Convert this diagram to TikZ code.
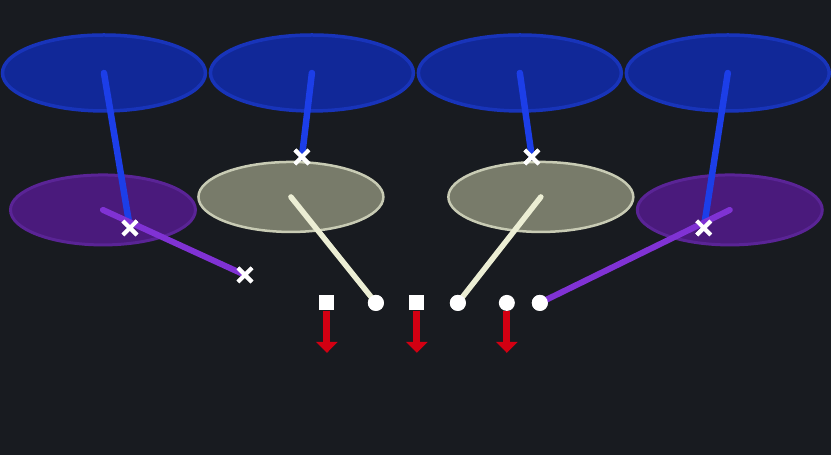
\documentclass[tikz,border=0pt]{standalone}
\usetikzlibrary{shapes.geometric,shapes.misc,arrows.meta}
\definecolor{FieldDark}{RGB}{24,27,32}
\definecolor{ZoneBlau}{RGB}{17,40,152}
\definecolor{ZoneBlauRand}{RGB}{24,52,186}
\definecolor{LinieBlau}{RGB}{28,62,232}
\definecolor{ZoneLila}{RGB}{74,26,124}
\definecolor{ZoneLilaRand}{RGB}{90,36,150}
\definecolor{LinieLila}{RGB}{128,50,212}
\definecolor{ZoneGrau}{RGB}{120,123,106}
\definecolor{ZoneGrauRand}{RGB}{200,203,180}
\definecolor{LinieGrau}{RGB}{236,238,212}
\definecolor{PfeilRot}{RGB}{210,0,18}

\begin{document}
\begin{tikzpicture}[x=1pt, y=-1pt,
  bluezone/.style={ellipse, fill=ZoneBlau, draw=ZoneBlauRand, line width=3.5pt, minimum width=203pt, minimum height=76pt, inner sep=0},
  purplezone/.style={ellipse, fill=ZoneLila, draw=ZoneLilaRand, line width=3pt, minimum width=185pt, minimum height=70pt, inner sep=0},
  greyzone/.style={ellipse, fill=ZoneGrau, draw=ZoneGrauRand, line width=2.5pt, minimum width=185pt, minimum height=70pt, inner sep=0},
  bluelink/.style={draw=LinieBlau, line width=6.5pt, line cap=round},
  purplelink/.style={draw=LinieLila, line width=6pt, line cap=round},
  greylink/.style={draw=LinieGrau, line width=5.5pt, line cap=round},
  xmark/.style={cross out, draw=white, line width=4pt, minimum size=10pt, inner sep=0},
  sqmark/.style={rectangle, fill=white, minimum size=15pt, inner sep=0},
  cmark/.style={circle, fill=white, minimum size=16pt, inner sep=0},
  redarrow/.style={draw=PfeilRot, line width=7pt, -{Triangle[width=21pt,length=11pt]}}]
\fill[FieldDark] (0,0) rectangle (831,455);

% zones
\node[bluezone] (deep1) at (104,73) {};
\node[bluezone] (deep2) at (312,73) {};
\node[bluezone] (deep3) at (520,73) {};
\node[bluezone] (deep4) at (728,73) {};
\node[purplezone] (flatL) at (103,210) {};
\node[purplezone] (flatR) at (730,210) {};
\node[greyzone] (hookL) at (291,197) {};
\node[greyzone] (hookR) at (541,197) {};

% defenders and linemen
\node[xmark] (xL)  at (130,228) {};
\node[xmark] (xLo) at (245,275) {};
\node[xmark] (xM1) at (302,157) {};
\node[xmark] (xM2) at (532,157) {};
\node[xmark] (xR)  at (704,228) {};
\node[sqmark] (s1) at (327,303) {};
\node[cmark]  (c1) at (376,303) {};
\node[sqmark] (s2) at (417,303) {};
\node[cmark]  (c2) at (458,303) {};
\node[cmark]  (c3) at (507,303) {};
\node[cmark]  (c4) at (540,303) {};

% drops
\draw[bluelink] (deep1.center) -- (xL.center);
\draw[bluelink] (deep2.center) -- (xM1.center);
\draw[bluelink] (deep3.center) -- (xM2.center);
\draw[bluelink] (deep4.center) -- (xR.center);
\draw[purplelink] (flatL.center) -- (xLo.center);
\draw[purplelink] (flatR.center) -- (c4.center);
\draw[greylink] (hookL.center) -- (c1.center);
\draw[greylink] (hookR.center) -- (c2.center);

% redraw marks on top
\foreach \m in {xL,xLo,xM1,xM2,xR} \node[xmark] at (\m) {};
\node[cmark] at (c1) {};
\node[cmark] at (c2) {};
\node[cmark] at (c4) {};

% blocks
\coordinate (e1) at (327,353);
\coordinate (e2) at (417,353);
\coordinate (e3) at (507,353);
\draw[redarrow] (s1.south) -- (e1);
\draw[redarrow] (s2.south) -- (e2);
\draw[redarrow] (c3.south) -- (e3);
\end{tikzpicture}
\end{document}
